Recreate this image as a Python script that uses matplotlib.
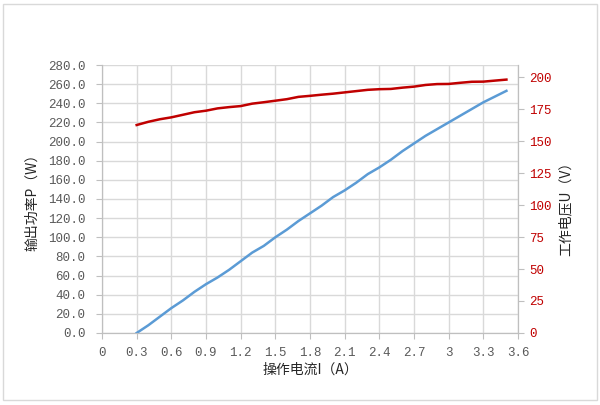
import matplotlib.pyplot as plt
import matplotlib.patches as patches
import numpy as np

plt.rcParams['font.family'] = ['Noto Sans CJK SC', 'DejaVu Sans']

# operating current (A)
current = [0.3, 0.4, 0.5, 0.6, 0.7, 0.8, 0.9, 1.0, 1.1, 1.2, 1.3, 1.4, 1.5, 1.6, 1.7,
           1.8, 1.9, 2.0, 2.1, 2.2, 2.3, 2.4, 2.5, 2.6, 2.7, 2.8, 2.9, 3.0, 3.1, 3.2,
           3.3, 3.4, 3.5]
# output power P (W)
power = [0, 8, 17, 26, 34, 43, 51, 58, 66, 75, 84, 91, 100, 108, 117,
         125, 133, 142, 149, 157, 166, 173, 181, 190, 198, 206, 213, 220, 227, 234,
         241, 247, 253]
# working voltage U (V)
voltage = [162.5, 165, 167, 168.5, 170.5, 172.5, 173.7, 175.5, 176.5, 177.3, 179.2, 180.3,
           181.5, 182.7, 184.5, 185.3, 186.2, 187, 188, 189, 190, 190.5, 190.7, 191.7,
           192.5, 193.8, 194.5, 194.6, 195.5, 196.3, 196.4, 197.2, 198]

x_ticks = [0, 0.3, 0.6, 0.9, 1.2, 1.5, 1.8, 2.1, 2.4, 2.7, 3.0, 3.3, 3.6]
x_labels = ['0', '0.3', '0.6', '0.9', '1.2', '1.5', '1.8', '2.1', '2.4', '2.7', '3', '3.3', '3.6']
left_ticks = np.arange(0, 281, 20)
right_ticks = np.arange(0, 201, 25)

grey = '#595959'
red = '#C00000'
blue = '#5B9BD5'
grid_c = '#D9D9D9'

fig = plt.figure(figsize=(6, 4.05), dpi=100)
ax = fig.add_axes([0.17, 0.1778, 0.6933, 0.6617])
ax2 = ax.twinx()

ax.plot(current, power, color=blue, lw=1.8, zorder=3)
ax2.plot(current, voltage, color=red, lw=1.8, zorder=3)

ax.set_xlim(0, 3.6)
ax.set_ylim(0, 280)
ax2.set_ylim(0, 209.4)

ax.set_xticks(x_ticks)
ax.set_xticklabels(x_labels)
ax.set_yticks(left_ticks)
ax.set_yticklabels(['%.1f' % v for v in left_ticks])
ax2.set_yticks(right_ticks)
ax2.set_yticklabels(['%d' % v for v in right_ticks])

ax.grid(True, color=grid_c, lw=1.0)
ax.set_axisbelow(True)

for a in (ax, ax2):
    for s in a.spines.values():
        s.set_color('#BFBFBF')
    a.spines['top'].set_visible(False)

ax.tick_params(axis='both', colors='#BFBFBF', length=4, labelcolor=grey)
ax.tick_params(axis='y', pad=8)
ax.tick_params(axis='x', pad=6)
ax2.tick_params(axis='y', colors='#BFBFBF', length=4, labelcolor=red, pad=4)

for lab in ax.get_xticklabels() + ax.get_yticklabels() + ax2.get_yticklabels():
    lab.set_family(['Liberation Mono', 'DejaVu Sans'])
    lab.set_fontsize(9)

fig.text(32 / 600, 1 - 199 / 405, '输出功率P（W）', rotation=90, ha='center', va='center',
         fontsize=10, color='#262626')
fig.text(566 / 600, 1 - 205 / 405, '工作电压U（V）', rotation=90, ha='center', va='center',
         fontsize=10, color='#262626')
fig.text(310 / 600, 1 - 370 / 405, '操作电流I（A）', ha='center', va='center',
         fontsize=10, color='#262626')

# outer chart border
fig.patches.append(patches.Rectangle((3 / 600, 5 / 405), 594 / 600, 396 / 405,
                                     transform=fig.transFigure, fill=False,
                                     edgecolor='#D9D9D9', lw=1))

fig.savefig('out.png', dpi=100)
